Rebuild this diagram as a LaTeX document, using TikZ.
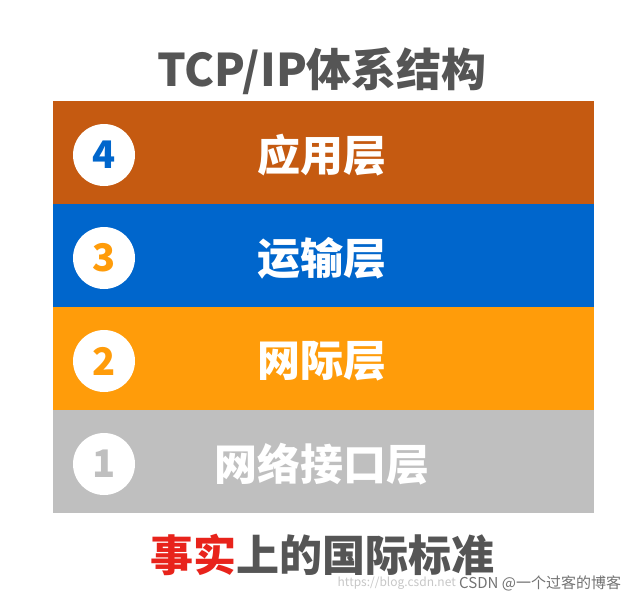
\documentclass[tikz,border=0pt]{standalone}
\usepackage{fontspec}
\newfontfamily\cjk{Noto Sans CJK SC}
\definecolor{appcol}{HTML}{C55A11}
\definecolor{transcol}{HTML}{0066CC}
\definecolor{netcol}{HTML}{FF9C0A}
\definecolor{linkcol}{HTML}{BFBFBF}
\definecolor{titlecol}{HTML}{555555}
\definecolor{redtxt}{HTML}{E8231B}
\tikzset{
  layer/.style={rectangle, minimum width=541pt, minimum height=103pt, inner sep=0pt},
  layername/.style={text=white, font=\cjk\bfseries\fontsize{43}{43}\selectfont},
  numdisc/.style={circle, fill=white, minimum size=62pt, inner sep=0pt, font=\cjk\bfseries\fontsize{38}{38}\selectfont},
  bigtext/.style={text=titlecol, font=\cjk\bfseries\fontsize{43}{43}\selectfont}
}
\begin{document}
\begin{tikzpicture}[x=1pt, y=-1pt]
    \useasboundingbox [fill=white] (0,0) rectangle (634,600);

    \node [bigtext, font=\cjk\bfseries\fontsize{45}{45}\selectfont] (title) at (322,71) {TCP/IP体系结构};

    \node [layer, fill=appcol]   (app)   at (323.5,152.5) {};
    \node [layer, fill=transcol] (trans) at (323.5,255.5) {};
    \node [layer, fill=netcol]   (net)   at (323.5,358.5) {};
    \node [layer, fill=linkcol]  (link)  at (323.5,461.5) {};

    \node [layername] (appname)   at (322,155) {应用层};
    \node [layername] (transname) at (322,258) {运输层};
    \node [layername] (netname)   at (322,361) {网际层};
    \node [layername] (linkname)  at (322,464) {网络接口层};

    \node [numdisc, text=transcol] (n4) at (104,155) {4};
    \node [numdisc, text=netcol]   (n3) at (104,258) {3};
    \node [numdisc, text=netcol]   (n2) at (104,361) {2};
    \node [numdisc, text=linkcol]  (n1) at (104,464) {1};

    \node [bigtext] (std) at (322,555) {\textcolor{redtxt}{事实}上的国际标准};

    \node [anchor=west, inner sep=0pt, text=black!55, font=\cjk\fontsize{15}{15}\selectfont] (mark) at (459,583) {CSDN @一个过客的博客};
    \node [anchor=east, inner sep=0pt, text=black!22, font=\cjk\fontsize{12}{12}\selectfont] (url) at ([xshift=-3pt]mark.west) {https://blog.csdn.net};
    \end{tikzpicture}
\end{document}
